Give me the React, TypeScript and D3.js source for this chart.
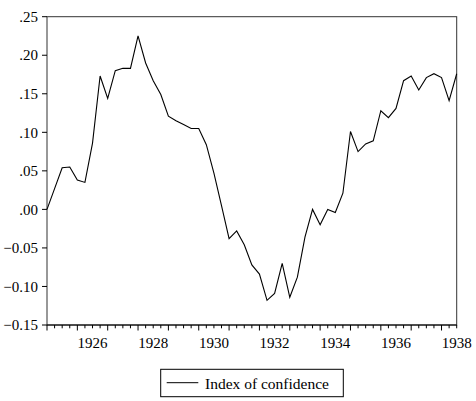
import React, { useEffect, useRef } from "react";
import * as d3 from "d3";

// quarterly observations, 1925Q1 .. 1938Q3
const startYear = 1925;
const confidence = [
  0.0, 0.027, 0.054, 0.055, 0.038, 0.035, 0.086, 0.173, 0.144, 0.18, 0.183,
  0.183, 0.225, 0.19, 0.167, 0.149, 0.121, 0.115, 0.11, 0.105, 0.105, 0.084,
  0.047, 0.005, -0.038, -0.028, -0.046, -0.072, -0.084, -0.118, -0.109, -0.07,
  -0.114, -0.088, -0.036, 0.0, -0.02, 0.0, -0.004, 0.021, 0.101, 0.075, 0.085,
  0.089, 0.128, 0.119, 0.131, 0.167, 0.173, 0.155, 0.171, 0.176, 0.171, 0.141,
  0.176,
];
const yTicks = [-0.15, -0.1, -0.05, 0.0, 0.05, 0.1, 0.15, 0.2, 0.25];
const yearLabels = [1926, 1928, 1930, 1932, 1934, 1936, 1938];
const seriesName = "Index of confidence";

const width = 476;
const height = 401;
const font = '"Liberation Serif", "DejaVu Serif", serif';

const App = () => {
  const ref = useRef(null);

  useEffect(() => {
    const svg = d3.select(ref.current);
    svg.selectAll("*").remove();

    const margin = { top: 16.7, right: 19.3, bottom: 76, left: 47 };
    const x0 = margin.left;
    const x1 = width - margin.right;
    const y0 = margin.top;
    const y1 = height - margin.bottom;

    const x = d3.scaleLinear().domain([0, confidence.length - 1]).range([x0, x1]);
    const y = d3.scaleLinear().domain([-0.15, 0.25]).range([y1, y0]);

    const fmt = (v) => {
      const s = d3.format(".2f")(v);
      return s.replace(/^(-?)0\./, "$1.");
    };

    // frame
    svg
      .append("rect")
      .attr("x", x0)
      .attr("y", y0)
      .attr("width", x1 - x0)
      .attr("height", y1 - y0)
      .attr("fill", "none")
      .attr("stroke", "#333")
      .attr("stroke-width", 1);

    // y axis ticks + labels
    const yg = svg.append("g");
    yg.selectAll("line")
      .data(yTicks)
      .join("line")
      .attr("x1", x0 - 5)
      .attr("x2", x0)
      .attr("y1", (d) => y(d))
      .attr("y2", (d) => y(d))
      .attr("stroke", "#000");
    yg.selectAll("text")
      .data(yTicks)
      .join("text")
      .attr("x", x0 - 9)
      .attr("y", (d) => y(d) + 5.2)
      .attr("text-anchor", "end")
      .style("font-family", font)
      .style("font-size", "15px")
      .text((d) => fmt(d));

    // x axis: quarterly ticks, longer at year starts
    const xg = svg.append("g");
    xg.append("line")
      .attr("x1", x0)
      .attr("x2", x1)
      .attr("y1", y1)
      .attr("y2", y1)
      .attr("stroke", "#000");
    xg.selectAll("line.tick")
      .data(d3.range(confidence.length))
      .join("line")
      .attr("class", "tick")
      .attr("x1", (i) => x(i))
      .attr("x2", (i) => x(i))
      .attr("y1", y1)
      .attr("y2", (i) => y1 + (i % 4 === 0 ? 5.5 : 3.3))
      .attr("stroke", "#000");
    xg.selectAll("text")
      .data(yearLabels)
      .join("text")
      .attr("x", (d) => x((d - startYear) * 4 + 2))
      .attr("y", y1 + 23)
      .attr("text-anchor", "middle")
      .style("font-family", font)
      .style("font-size", "15px")
      .text((d) => d);

    // series
    const line = d3
      .line()
      .x((d, i) => x(i))
      .y((d) => y(d));
    svg
      .append("path")
      .datum(confidence)
      .attr("d", line)
      .attr("fill", "none")
      .attr("stroke", "#000")
      .attr("stroke-width", 1.1)
      .attr("stroke-linejoin", "miter");

    // legend
    const lg = svg.append("g");
    lg.append("rect")
      .attr("x", 160.7)
      .attr("y", 369.3)
      .attr("width", 182.6)
      .attr("height", 27.4)
      .attr("fill", "none")
      .attr("stroke", "#000");
    lg.append("line")
      .attr("x1", 166.7)
      .attr("x2", 198.3)
      .attr("y1", 382.7)
      .attr("y2", 382.7)
      .attr("stroke", "#000");
    lg.append("text")
      .attr("x", 205)
      .attr("y", 388.8)
      .style("font-family", font)
      .style("font-size", "15.5px")
      .text(seriesName);
  }, []);

  return (
    <svg
      ref={ref}
      width={width}
      height={height}
      style={{ position: "absolute", left: 0, top: 0, background: "#fff" }}
    />
  );
};

export default App;
